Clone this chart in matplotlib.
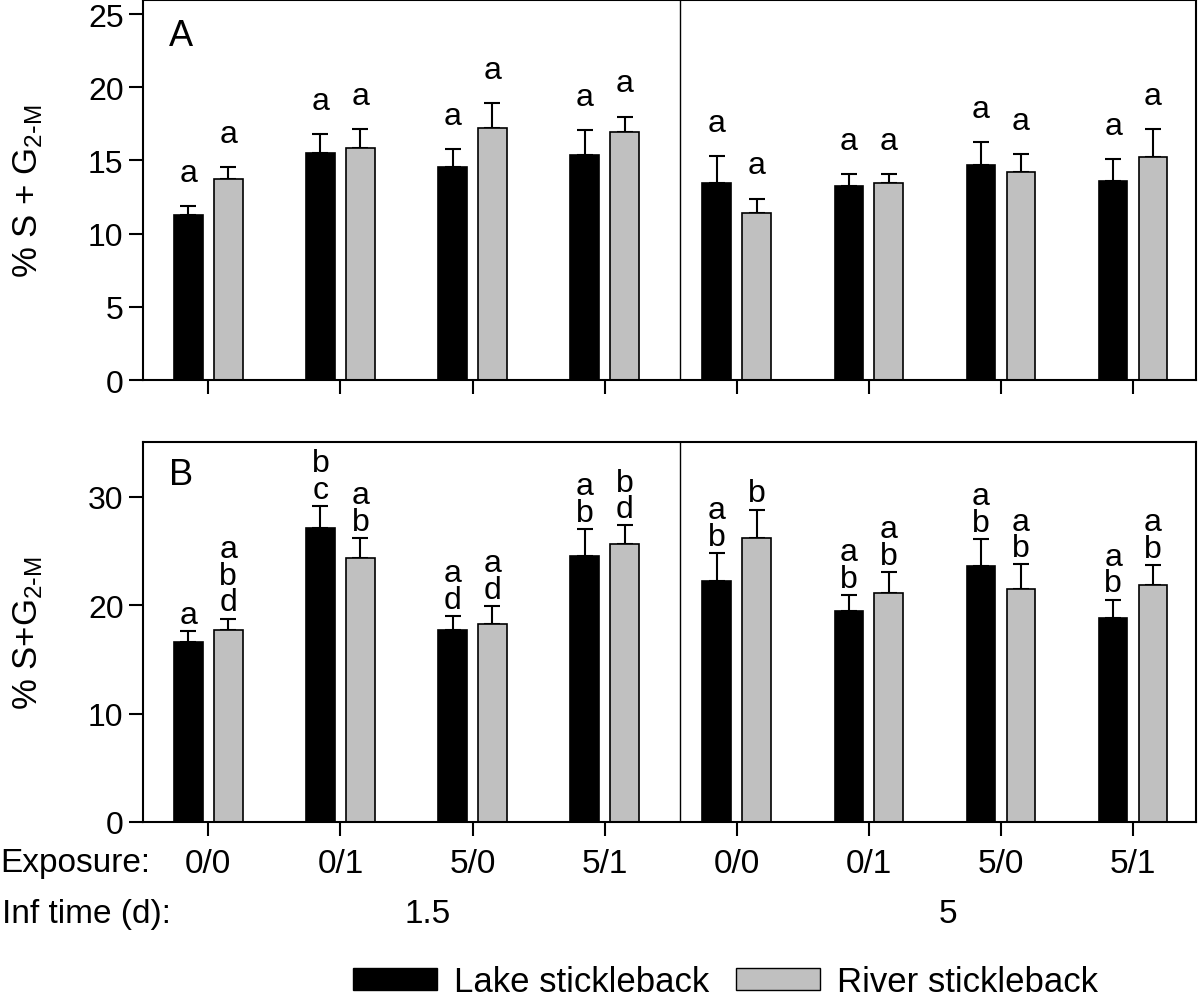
import matplotlib
matplotlib.use('Agg')
import matplotlib.pyplot as plt
import numpy as np
from matplotlib.patches import Patch

plt.rcParams['font.family'] = ['Liberation Sans', 'DejaVu Sans']
plt.rcParams['mathtext.default'] = 'regular'

# ---- data ----
exposure = ['0/0', '0/1', '5/0', '5/1', '0/0', '0/1', '5/0', '5/1']
inf_times = ['1.5', '5']
series = ['Lake stickleback', 'River stickleback']

a_lake = [11.3, 15.5, 14.55, 15.4, 13.45, 13.25, 14.7, 13.6]
a_lake_err = [0.6, 1.3, 1.25, 1.65, 1.85, 0.85, 1.55, 1.5]
a_river = [13.75, 15.85, 17.2, 16.95, 11.4, 13.45, 14.2, 15.23]
a_river_err = [0.8, 1.3, 1.7, 1.05, 1.0, 0.6, 1.25, 1.9]
a_lake_let = ['a'] * 8
a_river_let = ['a'] * 8

b_lake = [16.6, 27.15, 17.7, 24.55, 22.2, 19.5, 23.6, 18.8]
b_lake_err = [1.0, 2.0, 1.3, 2.45, 2.6, 1.4, 2.5, 1.7]
b_river = [17.75, 24.35, 18.3, 25.65, 26.2, 21.1, 21.5, 21.85]
b_river_err = [1.0, 1.85, 1.6, 1.7, 2.6, 1.95, 2.25, 1.85]
b_lake_let = ['a', 'b\nc', 'a\nd', 'a\nb', 'a\nb', 'a\nb', 'a\nb', 'a\nb']
b_river_let = ['a\nb\nd', 'a\nb', 'a\nd', 'b\nd', 'b', 'a\nb', 'a\nb', 'a\nb']

fig = plt.figure(figsize=(12, 10.04), dpi=100)
axA = fig.add_axes([0.1192, 0.6205, 0.8775, 0.3785])
axB = fig.add_axes([0.1192, 0.1803, 0.8775, 0.3785])

x = np.arange(len(exposure))
w = 0.216
off = 0.151
gray = '#c0c0c0'

panels = [
    (axA, a_lake, a_lake_err, a_river, a_river_err, a_lake_let, a_river_let,
     25.96, [0, 5, 10, 15, 20, 25], r'% S + G$_{2\text{-}M}$', 'A', 0.952, 13),
    (axB, b_lake, b_lake_err, b_river, b_river_err, b_lake_let, b_river_let,
     35.05, [0, 10, 20, 30], r'% S+G$_{2\text{-}M}$', 'B', 0.96, 1.0),
]

for (ax, lake, lerr, river, rerr, llet, rlet, ytop, yticks, ylab, plab, plab_y, toff) in panels:
    lake = np.array(lake); river = np.array(river)
    lerr = np.array(lerr); rerr = np.array(rerr)
    ax.bar(x - off, lake, w, color='black', edgecolor='black', linewidth=1.2, zorder=2)
    ax.bar(x + off, river, w, color=gray, edgecolor='black', linewidth=1.2, zorder=2)
    ax.errorbar(x - off, lake, yerr=[np.zeros_like(lerr), lerr], fmt='none', ecolor='black',
                elinewidth=1.5, capsize=6, capthick=1.5, zorder=1)
    ax.errorbar(x + off, river, yerr=[np.zeros_like(rerr), rerr], fmt='none', ecolor='black',
                elinewidth=1.5, capsize=6, capthick=1.5, zorder=1)
    for xi, top, t in zip(x - off, lake + lerr, llet):
        ax.annotate(t, (xi, top), xytext=(0, toff), textcoords='offset points',
                    ha='center', va='bottom', fontsize=23, linespacing=0.85)
    for xi, top, t in zip(x + off, river + rerr, rlet):
        ax.annotate(t, (xi, top), xytext=(0, toff), textcoords='offset points',
                    ha='center', va='bottom', fontsize=23, linespacing=0.85)
    ax.axvline(3.57, color='black', linewidth=1.0)
    ax.set_xlim(-0.494, 7.477)
    ax.set_ylim(0, ytop)
    ax.set_yticks(yticks)
    ax.set_xticks(x)
    for s in ax.spines.values():
        s.set_linewidth(1.5)
    ax.tick_params(axis='both', direction='out', length=10, width=1.5, labelsize=23)
    ax.tick_params(axis='y', pad=4)
    ax.set_ylabel(ylab, fontsize=25)
    ax.yaxis.set_label_coords(-0.093, 0.5)
    ax.text(0.025, plab_y, plab, transform=ax.transAxes, fontsize=26, va='top', ha='left')

axA.set_xticklabels([])
axB.set_xticklabels(exposure, fontsize=24)
axB.tick_params(axis='x', pad=9)

fig.text(0.0, 0.1318, 'Exposure:', fontsize=24, va='baseline', ha='left')
fig.text(0.002, 0.0807, 'Inf time (d):', fontsize=24, va='baseline', ha='left')
fig.text(0.356, 0.0807, inf_times[0], fontsize=24, va='baseline', ha='center')
fig.text(0.79, 0.0807, inf_times[1], fontsize=24, va='baseline', ha='center')

handles = [Patch(facecolor='black', edgecolor='black'),
           Patch(facecolor=gray, edgecolor='black')]
fig.legend(handles=handles, labels=series, loc='center', bbox_to_anchor=(0.6046, 0.021),
           ncol=2, frameon=False, fontsize=25, handlelength=2.42, handleheight=0.6,
           handletextpad=0.49, columnspacing=0.75, borderaxespad=0, borderpad=0)

fig.savefig('out.png', dpi=100)
